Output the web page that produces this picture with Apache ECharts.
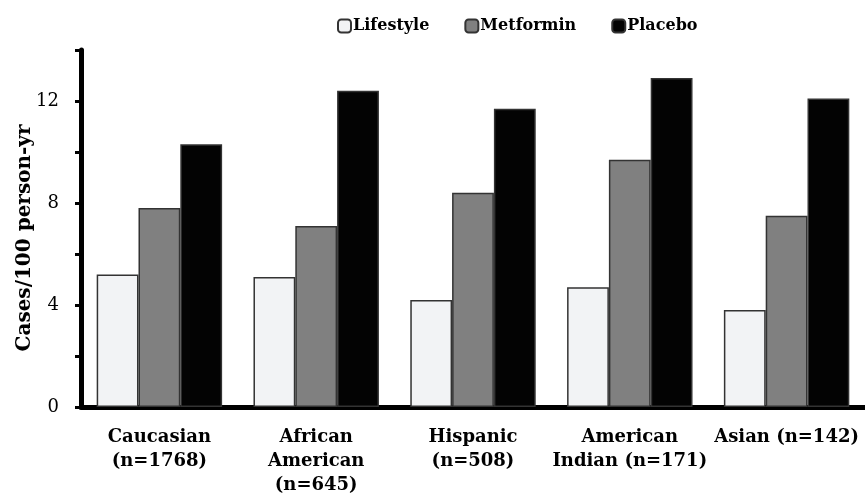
<!DOCTYPE html>
<html>
<head>
<meta charset="utf-8">
<script src="https://cdn.jsdelivr.net/npm/echarts@6/dist/echarts.min.js"></script>
<style>html,body{margin:0;padding:0;background:#fff}#c{width:865px;height:503px}</style>
</head>
<body>
<div id="c"></div>
<script>
var categories = ['Caucasian\n(n=1768)', 'African\nAmerican\n(n=645)', 'Hispanic\n(n=508)', 'American\nIndian (n=171)', 'Asian (n=142)'];
var lifestyle = [5.2, 5.1, 4.2, 4.7, 3.8];
var metformin = [7.8, 7.1, 8.4, 9.7, 7.5];
var placebo = [10.3, 12.4, 11.7, 12.9, 12.1];
var seriesNames = ['Lifestyle', 'Metformin', 'Placebo'];
var yAxisTitle = 'Cases/100 person-yr';

var font = '"DejaVu Serif", "Liberation Serif", serif';
var chart = echarts.init(document.getElementById('c'));
var border = {borderColor: '#333', borderWidth: 1.5};
chart.setOption({
  animation: false,
  textStyle: {fontFamily: font},
  legend: {
    top: 13, left: 332,
    itemWidth: 13, itemHeight: 13, itemGap: 35,
    textStyle: {fontFamily: font, fontWeight: 'bold', fontSize: 16, color: '#000', padding: [0,0,0,-3]},
    data: seriesNames
  },
  graphic: [{
    type: 'text', x: 25, y: 238, rotation: Math.PI / 2,
    style: {text: yAxisTitle, font: 'bold 20px ' + font, fill: '#000', align: 'center', verticalAlign: 'middle'}
  }],
  grid: {left: 81, right: 0, top: 50, bottom: 96, containLabel: false, outerBoundsMode: 'none'},
  xAxis: {
    type: 'category', data: categories,
    axisLine: {lineStyle: {color: '#000', width: 5}},
    axisTick: {show: false},
    axisLabel: {fontFamily: font, fontWeight: 'bold', fontSize: 18, color: '#000', lineHeight: 24, margin: 18, interval: 0}
  },
  yAxis: {
    type: 'value', min: 0, max: 14, interval: 2,
    axisLine: {show: true, lineStyle: {color: '#000', width: 5}},
    axisTick: {show: true, length: 6, lineStyle: {color: '#000', width: 3}},
    splitLine: {show: false},
    axisLabel: {fontFamily: font, fontSize: 18, color: '#000', margin: 22,
      formatter: function(v){ return v % 4 === 0 ? String(v) : ''; }}
  },
  series: [
    {name: seriesNames[0], type: 'bar', data: lifestyle, barGap: '0%', barCategoryGap: '20%', itemStyle: Object.assign({color: '#f2f3f5'}, border)},
    {name: seriesNames[1], type: 'bar', data: metformin, itemStyle: Object.assign({color: '#808080'}, border)},
    {name: seriesNames[2], type: 'bar', data: placebo, itemStyle: Object.assign({color: '#030303'}, border)}
  ]
});
</script>
</body>
</html>
